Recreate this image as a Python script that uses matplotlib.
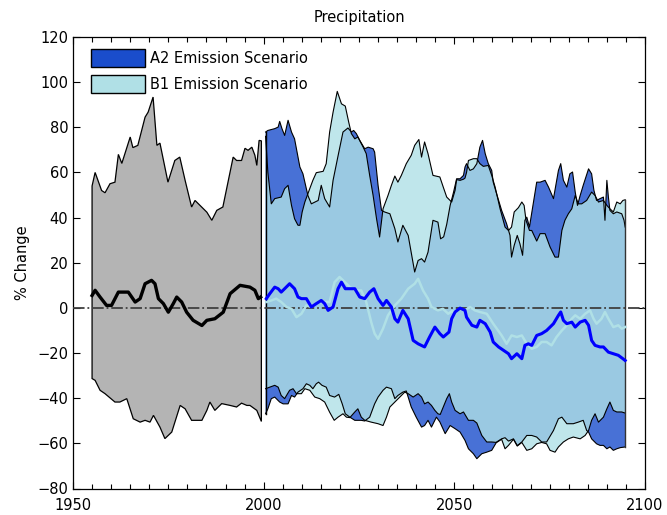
import matplotlib
matplotlib.use("Agg")
import matplotlib.pyplot as plt
from matplotlib.patches import Patch

# ---- historical ensemble (1955-1999) ----
hist_up_yr = [1955.0, 1955.8, 1957.5, 1958.4, 1959.7, 1961.0, 1961.9, 1962.8, 1965.0, 1965.7,
              1967.0, 1968.9, 1969.7, 1971.0, 1972.0, 1972.8, 1974.9, 1976.7, 1978.0, 1979.4,
              1981.1, 1982.0, 1985.1, 1986.4, 1987.7, 1989.3, 1992.0, 1992.9, 1994.2, 1995.1,
              1995.9, 1996.9, 1997.7, 1998.2, 1998.8, 1999.4]
hist_up = [54, 60, 52, 51, 55, 55.7, 68, 64, 75.7, 71,
           72, 84.5, 86.7, 93.4, 72, 73, 55.7, 65.3, 66.8, 56.5,
           44.7, 47.6, 42.4, 38.8, 43.2, 44.7, 66.8, 65.3, 65.3, 70.7,
           69.8, 71.2, 67.6, 63.1, 74.2, 74]

hist_lo_yr = [1955.0, 1955.8, 1957.1, 1958.4, 1961.0, 1962.3, 1964.1, 1965.8, 1967.6, 1968.9,
              1970.2, 1971.1, 1972.8, 1974.1, 1975.9, 1978.1, 1979.4, 1981.1, 1982.4, 1983.8,
              1985.1, 1985.9, 1987.2, 1989.0, 1991.2, 1992.9, 1994.2, 1995.6, 1996.4, 1998.2, 1999.4]
hist_lo = [-31.3, -32.1, -36.5, -38.0, -41.7, -41.7, -40.2, -49.1, -50.6, -49.8,
           -50.6, -47.6, -52.8, -57.9, -55.0, -43.2, -44.7, -49.8, -49.8, -49.8,
           -45.4, -41.7, -45.4, -42.4, -43.2, -43.9, -42.2, -43.2, -43.2, -45.4, -50.3]

hist_mean_yr = [1955.0, 1955.8, 1957.1, 1958.8, 1960.1, 1961.9, 1963.2, 1964.5, 1966.3, 1967.6,
                1968.9, 1970.6, 1971.5, 1972.4, 1973.7, 1975.0, 1976.3, 1977.2, 1978.5, 1979.8,
                1981.5, 1983.8, 1985.1, 1987.2, 1989.4, 1991.2, 1993.8, 1996.4, 1997.7, 1998.6, 1999.2]
hist_mean = [5.5, 7.8, 4.8, 1.1, 1.1, 7.0, 7.0, 7.0, 2.6, 4.1,
             10.7, 12.2, 10.7, 4.1, 1.9, -1.9, 1.9, 4.8, 2.6, -1.9,
             -5.5, -7.8, -5.5, -4.8, -1.9, 6.3, 10.0, 9.2, 7.8, 4.1, 4.8]

# ---- A2 scenario (2000-2095) ----
a2_up_yr = [2000.5, 2001.1, 2002.9, 2003.8, 2004.2, 2004.8, 2005.5, 2006.4, 2007.3, 2008.1,
            2009.5, 2010.3, 2011.6, 2012.5, 2014.3, 2015.1, 2016.0, 2017.3, 2018.2, 2019.5,
            2020.8, 2022.1, 2023.0, 2023.6, 2024.3, 2025.2, 2026.5, 2027.4, 2028.7, 2029.1,
            2030.0, 2030.9, 2031.7, 2033.1, 2034.4, 2035.2, 2036.5, 2037.9, 2039.6, 2040.5,
            2041.4, 2042.2, 2043.1, 2044.4, 2045.7, 2046.4, 2047.2, 2048.0, 2048.9, 2049.8,
            2050.6, 2051.5, 2052.4, 2052.8, 2053.2, 2054.1, 2055.0, 2055.9, 2056.7, 2057.4,
            2058.1, 2058.9, 2059.8, 2060.2, 2061.1, 2062.4, 2063.7, 2064.6, 2065.0, 2065.7,
            2066.5, 2067.2, 2067.9, 2068.5, 2069.0, 2069.7, 2071.6, 2072.5, 2073.8, 2074.7,
            2076.0, 2077.3, 2077.9, 2078.6, 2079.5, 2080.3, 2081.0, 2081.7, 2082.3, 2083.0,
            2083.8, 2085.2, 2086.0, 2086.6, 2087.3, 2088.2, 2089.1, 2089.5, 2090.0, 2090.4,
            2090.8, 2091.7, 2092.6, 2093.9, 2094.5, 2094.8]
a2_up = [77.9, 78.6, 79.4, 80.1, 82.6, 79.4, 76.4, 83.1, 77.9, 74.9,
         62.4, 59.4, 49.8, 46.1, 47.6, 54.3, 48.4, 44.7, 56.5, 67.3,
         77.9, 79.7, 77.9, 78.6, 77.2, 74.2, 70.5, 71.2, 70.5, 69.0,
         54.3, 43.2, 42.5, 41.7, 35.1, 29.2, 36.6, 32.1, 15.9, 21.0,
         21.8, 20.3, 24.7, 38.8, 38.0, 30.6, 31.5, 37.0, 45.4, 51.3,
         57.2, 57.2, 58.7, 62.4, 63.9, 60.9, 61.6, 63.9, 71.2, 74.2,
         68.3, 63.9, 60.9, 55.7, 50.5, 43.2, 37.3, 32.1, 22.5, 27.7,
         32.1, 28.4, 23.3, 38.8, 40.2, 35.8, 55.7, 55.7, 56.5, 53.5,
         48.4, 60.9, 63.9, 56.5, 53.5, 59.4, 60.2, 51.3, 45.4, 49.8,
         54.3, 61.6, 59.4, 52.1, 47.6, 48.4, 49.1, 38.8, 56.5, 49.1,
         43.2, 41.7, 42.5, 41.7, 38.8, 35.8]

a2_lo_yr = [2000.5, 2001.1, 2002.0, 2002.9, 2004.2, 2005.1, 2006.4, 2007.3, 2008.1, 2009.0,
            2010.3, 2011.2, 2012.1, 2012.9, 2013.8, 2014.4, 2015.3, 2016.4, 2017.3, 2018.6,
            2019.7, 2020.6, 2021.4, 2022.6, 2023.9, 2024.7, 2025.6, 2026.5, 2027.8, 2029.1,
            2030.0, 2031.3, 2032.2, 2033.5, 2034.4, 2035.2, 2036.5, 2037.4, 2038.7, 2040.0,
            2041.4, 2042.2, 2043.1, 2044.0, 2045.3, 2046.2, 2047.6, 2048.9, 2050.2, 2051.5,
            2052.8, 2053.7, 2055.0, 2055.9, 2057.2, 2058.5, 2059.8, 2061.1, 2062.4, 2063.3,
            2064.2, 2065.5, 2066.5, 2067.7, 2069.0, 2070.3, 2071.6, 2072.9, 2074.2, 2076.0,
            2077.3, 2078.2, 2079.5, 2081.2, 2082.5, 2083.8, 2084.7, 2085.2, 2086.0, 2087.3,
            2088.2, 2089.1, 2090.0, 2090.8, 2091.7, 2092.6, 2093.5, 2094.8]
a2_lo = [-46.9, -44.7, -40.2, -39.5, -41.7, -42.5, -42.5, -38.8, -39.5, -37.3,
         -35.8, -33.6, -34.3, -35.8, -33.6, -32.9, -34.3, -35.1, -38.8, -39.5,
         -38.3, -42.5, -46.9, -48.4, -49.8, -49.8, -49.8, -50.1, -48.4, -42.5,
         -39.5, -36.5, -35.1, -35.8, -40.2, -38.8, -37.3, -36.8, -43.9, -48.4,
         -52.8, -52.1, -49.8, -52.8, -48.4, -50.5, -55.7, -52.1, -53.5, -55.0,
         -58.7, -62.4, -64.6, -66.8, -64.6, -63.9, -63.1, -59.4, -58.0, -57.5,
         -59.0, -58.0, -61.0, -59.4, -56.5, -56.5, -57.2, -59.4, -59.4, -54.3,
         -49.1, -48.4, -51.3, -51.3, -50.6, -49.8, -54.3, -55.0, -58.0, -60.2,
         -60.9, -60.9, -62.4, -61.6, -63.1, -62.4, -61.9, -61.6]

a2_mean_yr = [2000.7, 2001.6, 2002.9, 2003.8, 2004.6, 2005.5, 2006.8, 2008.1, 2009.0, 2009.9,
              2011.2, 2012.5, 2013.8, 2015.1, 2016.0, 2016.9, 2018.2, 2019.5, 2020.4, 2021.4,
              2022.6, 2023.9, 2025.2, 2026.5, 2027.8, 2028.9, 2030.0, 2031.3, 2032.2, 2033.5,
              2034.4, 2035.2, 2036.5, 2037.9, 2039.2, 2040.5, 2042.2, 2043.5, 2044.9, 2046.2,
              2047.1, 2048.6, 2049.3, 2050.2, 2051.5, 2052.8, 2053.2, 2054.6, 2055.9, 2056.7,
              2058.1, 2059.4, 2060.2, 2061.6, 2062.9, 2064.2, 2065.0, 2066.4, 2067.7, 2068.5,
              2069.4, 2070.3, 2071.6, 2072.9, 2074.2, 2076.0, 2077.3, 2077.9, 2078.6, 2079.5,
              2080.8, 2081.7, 2083.0, 2084.3, 2085.2, 2086.0, 2086.9, 2088.2, 2089.1, 2090.4,
              2091.7, 2093.0, 2094.2, 2094.8]
a2_mean = [4.1, 6.3, 9.2, 8.5, 7.0, 8.5, 10.7, 8.5, 4.8, 4.1,
           4.1, 0.4, 1.9, 3.3, 1.9, -1.1, 0.4, 8.5, 11.4, 8.5,
           8.5, 8.5, 4.8, 4.1, 7.0, 8.5, 4.1, 1.1, 3.3, 0.4,
           -4.8, -6.3, -1.1, -4.8, -14.4, -15.9, -17.3, -12.9, -8.5, -11.4,
           -12.9, -10.7, -4.8, -1.8, -0.1, -1.1, -4.1, -7.7, -8.5, -5.5,
           -7.0, -10.7, -15.1, -17.3, -18.8, -20.3, -22.5, -20.3, -22.5, -16.6,
           -15.9, -16.6, -12.2, -11.4, -10.0, -7.0, -3.3, -1.8, -5.5, -7.0,
           -6.3, -8.5, -6.3, -5.5, -7.7, -14.4, -16.6, -17.3, -17.3, -19.6,
           -20.3, -21.0, -22.5, -23.3]

# ---- B1 scenario (2000-2095) ----
b1_up_yr = [2000.5, 2001.1, 2002.0, 2002.9, 2004.6, 2005.5, 2006.4, 2007.3, 2008.1, 2009.0,
            2009.5, 2010.1, 2010.8, 2011.6, 2012.9, 2013.8, 2015.6, 2016.4, 2017.3, 2018.2,
            2019.3, 2020.4, 2021.4, 2022.3, 2023.0, 2023.9, 2024.7, 2026.1, 2026.9, 2027.8,
            2028.7, 2029.6, 2030.4, 2031.3, 2032.6, 2033.5, 2034.4, 2035.2, 2036.1, 2037.4,
            2038.7, 2039.6, 2040.7, 2041.4, 2042.2, 2043.1, 2044.4, 2046.2, 2047.1, 2048.0,
            2049.3, 2050.2, 2050.6, 2051.5, 2052.4, 2052.8, 2053.2, 2053.7, 2055.0, 2055.9,
            2056.7, 2057.6, 2058.9, 2059.8, 2060.7, 2062.0, 2063.3, 2064.2, 2065.0, 2065.7,
            2066.8, 2067.7, 2068.3, 2068.8, 2069.7, 2070.3, 2071.6, 2072.5, 2073.8, 2075.1,
            2076.4, 2077.3, 2078.2, 2079.0, 2079.9, 2080.8, 2081.7, 2082.5, 2083.4, 2084.7,
            2086.0, 2086.9, 2087.8, 2089.1, 2090.0, 2090.8, 2091.7, 2092.6, 2093.5, 2094.2, 2094.8]
b1_up = [76.0, 60.0, 46.1, 48.4, 49.1, 52.8, 54.3, 45.4, 39.5, 36.6,
         36.6, 42.5, 46.9, 50.6, 56.5, 59.9, 60.5, 63.9, 77.9, 86.7,
         95.9, 90.4, 89.4, 82.3, 77.2, 74.9, 75.7, 71.2, 68.3, 58.7,
         49.8, 39.5, 31.4, 43.9, 49.8, 54.3, 58.4, 55.7, 58.7, 63.9,
         67.6, 72.0, 74.6, 66.8, 73.5, 68.3, 58.7, 58.0, 53.5, 49.1,
         46.9, 52.1, 56.8, 56.5, 57.0, 57.5, 60.0, 65.3, 66.1, 66.1,
         63.9, 62.7, 63.1, 58.7, 53.5, 43.9, 35.8, 34.3, 35.8, 42.5,
         44.4, 46.9, 45.4, 38.8, 34.3, 34.3, 29.6, 32.9, 32.9, 27.0,
         22.5, 22.5, 34.3, 38.8, 41.7, 43.9, 49.8, 46.1, 46.1, 47.6,
         51.3, 49.8, 46.9, 47.6, 45.4, 43.9, 42.5, 46.9, 46.1, 47.6, 47.9]

b1_lo_yr = [2000.5, 2001.6, 2002.9, 2003.8, 2004.6, 2005.5, 2006.8, 2007.7, 2008.6, 2009.9,
            2010.8, 2012.1, 2013.4, 2014.7, 2016.0, 2017.3, 2018.5, 2019.5, 2020.8, 2021.7,
            2022.6, 2023.9, 2024.7, 2025.6, 2026.5, 2028.2, 2030.0, 2031.3, 2032.2, 2033.1,
            2034.4, 2035.7, 2037.0, 2037.9, 2039.2, 2040.5, 2041.4, 2042.2, 2043.1, 2044.0,
            2044.9, 2045.7, 2046.3, 2047.1, 2048.0, 2048.7, 2049.3, 2050.2, 2051.5, 2052.4,
            2053.7, 2055.0, 2055.9, 2057.2, 2058.5, 2059.8, 2061.1, 2062.4, 2063.3, 2064.2,
            2065.5, 2066.5, 2067.7, 2069.0, 2070.3, 2071.6, 2072.9, 2074.2, 2075.1, 2076.4,
            2077.3, 2078.6, 2079.9, 2081.2, 2083.0, 2084.3, 2085.2, 2086.0, 2086.9, 2087.8,
            2089.1, 2090.0, 2090.8, 2091.7, 2092.6, 2093.9, 2094.8]
b1_lo = [-35.8, -35.1, -34.3, -35.1, -38.8, -40.2, -36.5, -35.8, -38.0, -38.0,
         -35.8, -36.5, -39.5, -40.2, -41.7, -46.2, -49.8, -48.4, -46.9, -48.4,
         -48.6, -46.1, -44.7, -48.4, -49.8, -50.6, -51.3, -52.1, -48.4, -43.9,
         -41.7, -39.5, -37.3, -38.0, -39.5, -38.0, -39.5, -42.5, -41.7, -43.2,
         -45.4, -46.9, -47.2, -43.9, -40.2, -38.0, -41.7, -45.4, -46.9, -46.1,
         -49.8, -49.8, -51.0, -56.5, -59.4, -59.4, -59.6, -58.2, -62.4, -60.9,
         -58.2, -61.2, -59.6, -63.1, -62.4, -60.2, -59.6, -60.2, -63.1, -63.9,
         -61.6, -59.4, -58.0, -57.2, -58.0, -56.5, -54.3, -49.8, -46.9, -50.6,
         -48.4, -44.7, -41.7, -45.4, -46.1, -46.1, -46.6]

b1_mean_yr = [2000.7, 2002.0, 2003.3, 2004.6, 2006.0, 2007.3, 2008.6, 2009.9, 2011.2, 2012.5,
              2014.3, 2016.0, 2017.3, 2018.6, 2019.9, 2021.3, 2022.6, 2024.3, 2025.6, 2026.9,
              2028.2, 2029.1, 2030.0, 2031.3, 2032.6, 2034.4, 2036.1, 2037.9, 2039.6, 2040.5,
              2041.8, 2043.1, 2044.0, 2045.7, 2047.0, 2048.4, 2049.3, 2050.2, 2051.5, 2052.8,
              2054.1, 2055.4, 2056.7, 2058.5, 2060.2, 2062.4, 2063.7, 2065.0, 2066.4, 2067.7,
              2069.0, 2070.3, 2071.6, 2072.9, 2074.2, 2075.5, 2076.8, 2078.2, 2079.5, 2080.8,
              2081.7, 2083.0, 2084.3, 2085.6, 2086.5, 2087.3, 2088.6, 2089.5, 2090.4, 2091.7,
              2093.0, 2093.9, 2094.8]
b1_mean = [2.6, 3.3, 4.1, 2.6, 0.4, -0.4, -4.1, -2.6, 1.1, 0.4,
           2.6, 2.6, 2.6, 11.4, 13.7, 11.4, 9.2, 7.7, 7.7, 2.6,
           -6.3, -11.4, -13.7, -9.2, -3.3, 1.1, 4.1, 8.5, 10.7, 12.9,
           7.7, 4.1, 0.4, -1.1, -0.4, -2.6, -1.5, -1.8, -0.4, -1.1,
           0.4, -1.1, -1.8, -2.6, -7.0, -12.2, -15.9, -12.2, -12.9, -12.2,
           -15.9, -18.1, -17.3, -15.1, -15.1, -16.6, -12.9, -10.0, -7.7, -4.8,
           -3.3, -4.8, -2.6, -1.1, -4.8, -7.0, -4.8, -1.8, -4.8, -8.5,
           -7.7, -9.2, -8.5]

x_ticks = [1950, 2000, 2050, 2100]
y_ticks = [-80, -60, -40, -20, 0, 20, 40, 60, 80, 100, 120]
series_labels = ["A2 Emission Scenario", "B1 Emission Scenario"]

GRAY = "#b4b4b4"
A2_COLOR = "#1a4dcc"
B1_COLOR = "#b0e0e6"
FILL_ALPHA = 0.8

plt.rcParams["font.family"] = ["DejaVu Sans"]
plt.rcParams["font.size"] = 10.5

fig = plt.figure(figsize=(6.67, 5.15), dpi=100)
ax = fig.add_axes([73 / 667, 1 - 488.5 / 515, 572 / 667, 451.5 / 515])


def band(ax, up_x, up_y, lo_x, lo_y, **kw):
    xs = list(up_x) + list(reversed(lo_x))
    ys = list(up_y) + list(reversed(lo_y))
    return ax.fill(xs, ys, **kw)


# historical band
band(ax, hist_up_yr, hist_up, hist_lo_yr, hist_lo,
     facecolor=GRAY, edgecolor="black", linewidth=0.9, zorder=2)

# scenario bands: A2 underneath, B1 on top, both semi-transparent
band(ax, a2_up_yr, a2_up, a2_lo_yr, a2_lo,
     facecolor=(0.102, 0.302, 0.8, FILL_ALPHA), edgecolor="none", zorder=2)
band(ax, b1_up_yr, b1_up, b1_lo_yr, b1_lo,
     facecolor=(0.69, 0.878, 0.902, FILL_ALPHA), edgecolor="none", zorder=3)

# band outlines
for xs, ys in [(a2_up_yr, a2_up), (a2_lo_yr, a2_lo), (b1_up_yr, b1_up), (b1_lo_yr, b1_lo)]:
    ax.plot(xs, ys, color="black", linewidth=0.8, zorder=4)
ax.plot([a2_up_yr[0], a2_lo_yr[0]], [a2_up[0], a2_lo[0]], color="black", linewidth=1.0, zorder=4)
ax.plot([a2_up_yr[-1], a2_lo_yr[-1]], [b1_up[-1], a2_lo[-1]], color="#333333", linewidth=1.0, zorder=4)

# zero reference line
ax.axhline(0, color="#404040", linestyle="-.", linewidth=1.3, zorder=5)

# ensemble means
ax.plot(hist_mean_yr, hist_mean, color="black", linewidth=2.4, zorder=6)
ax.plot(b1_mean_yr, b1_mean, color=B1_COLOR, linewidth=1.8, zorder=6)
ax.plot(a2_mean_yr, a2_mean, color="#0000ff", linewidth=2.2, zorder=7)

ax.set_xlim(1950, 2100)
ax.set_ylim(-80, 120)
ax.set_xticks(x_ticks)
ax.set_xticks(range(1950, 2101, 5), minor=True)
ax.set_yticks(y_ticks)
ax.tick_params(which="both", direction="in", top=True, right=True, labelsize=10.5)
ax.tick_params(which="major", length=5, width=0.8)
ax.tick_params(which="minor", length=3.5, width=0.8)
ax.tick_params(axis="x", which="major", pad=7)
for s in ax.spines.values():
    s.set_linewidth(0.9)

ax.set_title("Precipitation", fontsize=10.5, pad=11)
ax.set_ylabel("% Change", fontsize=10.5, labelpad=5)

handles = [Patch(facecolor=A2_COLOR, edgecolor="black", linewidth=1.0),
           Patch(facecolor=B1_COLOR, edgecolor="black", linewidth=1.0)]
ax.legend(handles, series_labels, loc="upper left", bbox_to_anchor=(0.032, 0.974),
          frameon=False, borderpad=0, borderaxespad=0, handlelength=3.7, handleheight=1.55,
          handletextpad=0.35, labelspacing=0.55, fontsize=10.5)

fig.savefig("out.png", dpi=100)
